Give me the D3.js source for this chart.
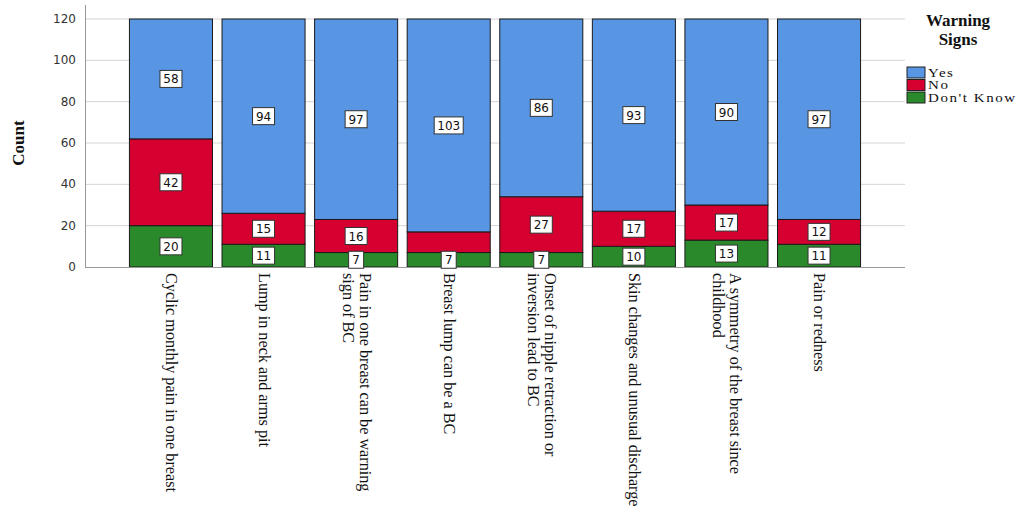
<!DOCTYPE html>
<html>
<head>
<meta charset="utf-8">
<script src="https://cdn.jsdelivr.net/npm/d3@7"></script>
<style>
  body { margin: 0; background: #fff; }
  svg { display: block; }
</style>
</head>
<body>
<svg id="chart"></svg>
<script>
// ---- data ----
const categories = [
  ["Cyclic monthly pain in one breast"],
  ["Lump in neck and arms pit"],
  ["Pain in one breast can be warning", "sign of BC"],
  ["Breast lump can be a BC"],
  ["Onset of nipple retraction or", "inversion lead to BC"],
  ["Skin changes and unusual discharge"],
  ["A symmetry of the breast since", "childhood"],
  ["Pain or redness"]
];
const yesValues = [58, 94, 97, 103, 86, 93, 90, 97];
const noValues = [42, 15, 16, 10, 27, 17, 17, 12];
const dontKnowValues = [20, 11, 7, 7, 7, 10, 13, 11];
const seriesNames = ["Yes", "No", "Don't Know"];
const yTicks = [0, 20, 40, 60, 80, 100, 120];
// SPSS dropped this label because it collided with the one below
const hiddenLabels = [{ series: "No", index: 3 }];

const colors = { "Yes": "#5896e3", "No": "#d5002f", "Don't Know": "#2a8a2b" };

const width = 1024, height = 512;
const svg = d3.select("#chart").attr("width", width).attr("height", height);

const x = d3.scaleBand()
  .domain(d3.range(categories.length))
  .range([85, 905])
  .paddingInner(0.103)
  .paddingOuter(0.48);

const y = d3.scaleLinear().domain([0, 120]).range([267, 19]);

// gridlines
svg.append("g")
  .selectAll("line")
  .data(yTicks.filter(d => d > 0))
  .join("line")
  .attr("x1", 85).attr("x2", 905)
  .attr("y1", d => y(d)).attr("y2", d => y(d))
  .attr("stroke", "#d4d4d4").attr("stroke-width", 1);

// stacked data
const rows = categories.map((c, i) => ({
  i, "Don't Know": dontKnowValues[i], "No": noValues[i], "Yes": yesValues[i]
}));
const stack = d3.stack().keys(["Don't Know", "No", "Yes"]);
const layers = stack(rows);

const bars = svg.append("g");
layers.forEach(layer => {
  bars.append("g")
    .selectAll("rect")
    .data(layer)
    .join("rect")
    .attr("x", d => x(d.data.i))
    .attr("width", x.bandwidth())
    .attr("y", d => y(d[1]))
    .attr("height", d => y(d[0]) - y(d[1]))
    .attr("fill", colors[layer.key])
    .attr("stroke", "#1a1a1a")
    .attr("stroke-width", 1);
});

// axes lines
svg.append("line").attr("x1", 85.5).attr("x2", 85.5).attr("y1", 5).attr("y2", 267)
  .attr("stroke", "#999");
svg.append("line").attr("x1", 85).attr("x2", 905).attr("y1", 267.5).attr("y2", 267.5)
  .attr("stroke", "#999");

// y tick labels
svg.append("g")
  .selectAll("text")
  .data(yTicks)
  .join("text")
  .attr("x", 76)
  .attr("y", d => y(d) + 4)
  .attr("text-anchor", "end")
  .attr("font-family", "DejaVu Sans, sans-serif")
  .attr("font-size", "12px")
  .attr("fill", "#333")
  .text(d => d);

svg.append("text")
  .attr("transform", "translate(24,143) rotate(-90)")
  .attr("text-anchor", "middle")
  .attr("font-family", "Liberation Serif, serif")
  .attr("font-weight", "bold")
  .attr("font-size", "17px")
  .attr("fill", "#111")
  .text("Count");

// data labels
const labels = svg.append("g");
layers.forEach(layer => {
  layer.forEach(d => {
    const v = d[1] - d[0];
    if (hiddenLabels.some(h => h.series === layer.key && h.index === d.data.i)) return;
    const cx = x(d.data.i) + x.bandwidth() / 2;
    const cy = y((d[0] + d[1]) / 2);
    const txt = String(v);
    const w = 8 + txt.length * 7;
    const g = labels.append("g").attr("transform", `translate(${cx},${cy})`);
    g.append("rect")
      .attr("x", -w / 2).attr("y", -8.5)
      .attr("width", w).attr("height", 17)
      .attr("fill", "#fff")
      .attr("stroke", "#333").attr("stroke-width", 1);
    g.append("text")
      .attr("y", 4.5)
      .attr("text-anchor", "middle")
      .attr("font-family", "DejaVu Sans, sans-serif")
      .attr("font-size", "12px")
      .attr("fill", "#111")
      .text(txt);
  });
});

// category labels (rotated)
const catG = svg.append("g");
categories.forEach((lines, i) => {
  const cx = x(i) + x.bandwidth() / 2;
  const lh = 17;
  const off = (lines.length - 1) * lh / 2;
  const t = catG.append("text")
    .attr("transform", `translate(${cx + off - 5},273) rotate(90)`)
    .attr("font-family", "Liberation Serif, serif")
    .attr("font-size", "16.2px")
    .attr("fill", "#111");
  lines.forEach((l, j) => {
    t.append("tspan").attr("x", 0).attr("dy", j === 0 ? 0 : lh).text(l);
  });
});

// legend
const legend = svg.append("g");
legend.append("text")
  .attr("x", 958).attr("y", 26)
  .attr("text-anchor", "middle")
  .attr("font-family", "Liberation Serif, serif")
  .attr("font-weight", "bold")
  .attr("font-size", "17px")
  .attr("fill", "#111")
  .selectAll("tspan")
  .data(["Warning", "Signs"])
  .join("tspan")
  .attr("x", 958)
  .attr("dy", (d, i) => i === 0 ? 0 : 19)
  .text(d => d);

const items = legend.selectAll(".item")
  .data(seriesNames)
  .join("g")
  .attr("transform", (d, i) => `translate(907, ${67 + i * 12.5})`);
items.append("rect")
  .attr("width", 18).attr("height", 11)
  .attr("fill", d => colors[d])
  .attr("stroke", "#222");
items.append("text")
  .attr("transform", "translate(21,9.5) scale(1.2,1)")
  .attr("font-family", "Liberation Serif, serif")
  .attr("font-size", "12.5px")
  .attr("letter-spacing", "1.3px")
  .attr("fill", "#111")
  .text(d => d);
</script>
</body>
</html>
